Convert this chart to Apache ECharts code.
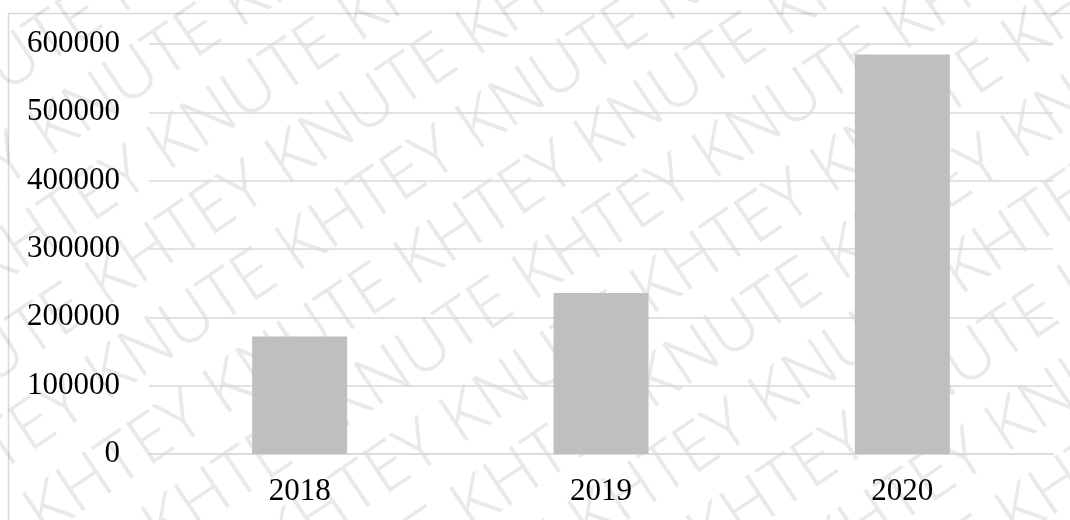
<!DOCTYPE html>
<html>
<head>
<meta charset="utf-8">
<script src="https://cdn.jsdelivr.net/npm/echarts@6/dist/echarts.min.js"></script>
<style>
  html, body { margin: 0; padding: 0; background: #fff; }
  #main { width: 1070px; height: 520px; }
</style>
</head>
<body>
<div id="main"></div>
<script>
const years = ["2018", "2019", "2020"];
const values = [172000, 235500, 584500];
const yTicks = [0, 100000, 200000, 300000, 400000, 500000, 600000];

// watermark lines (decoration only)
const markText = "KHTEY KNUTE ";
let wmLines = [];
for (let i = 0; i < 20; i++) {
  wmLines.push({
    type: "text",
    x: -1100 + (i % 4) * 90,
    y: -800 + i * 78,
    style: {
      text: markText.repeat(8),
      font: '300 68px "Noto Sans"',
      fill: "rgba(0,0,0,0.085)",
    },
  });
}

let chartDom = document.getElementById("main");
let myChart = echarts.init(chartDom);
let option = {
  animation: false,
  backgroundColor: "#fff",
  grid: {
    left: 149,
    right: 17,
    top: 44,
    bottom: 66,
  },
  xAxis: {
    type: "category",
    data: years,
    axisLine: { lineStyle: { color: "#d9d9d9", width: 1.5 } },
    axisTick: { show: false },
    axisLabel: {
      fontFamily: "Liberation Serif",
      fontSize: 31,
      color: "#000",
      margin: 22,
    },
  },
  yAxis: {
    type: "value",
    min: 0,
    max: yTicks[yTicks.length - 1],
    interval: 100000,
    axisLine: { show: false },
    axisTick: { show: false },
    splitLine: { lineStyle: { color: "#d9d9d9", width: 1.5 } },
    axisLabel: {
      fontFamily: "Liberation Serif",
      fontSize: 31,
      color: "#000",
      margin: 29,
      formatter: function (v) {
        return String(v);
      },
    },
  },
  series: [
    {
      type: "bar",
      data: values,
      barWidth: 95,
      itemStyle: { color: "#bfbfbf" },
    },
  ],
  graphic: [
    {
      type: "rect",
      silent: true,
      shape: { x: 8.5, y: 13.5, width: 1200, height: 700 },
      style: { fill: "none", stroke: "#d9d9d9", lineWidth: 1.5 },
    },
    {
      type: "group",
      silent: true,
      z: 100,
      x: 535,
      y: 260,
      rotation: (34 * Math.PI) / 180,
      children: wmLines,
    },
  ],
};
option && myChart.setOption(option);
</script>
</body>
</html>
